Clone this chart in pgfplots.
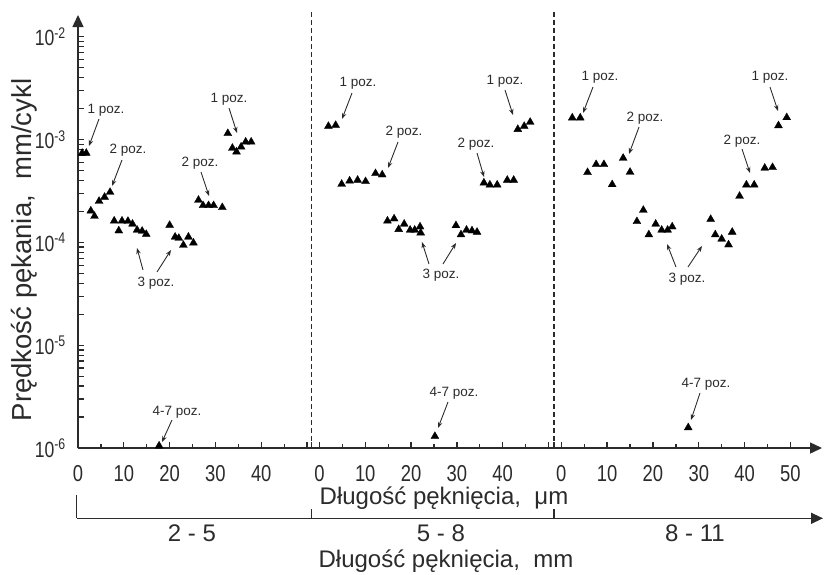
\documentclass[border=0pt]{standalone}
\usepackage{fontspec}
\setmainfont{Liberation Sans}
\newfontfamily\narrow[FakeStretch=0.8]{Liberation Sans}
\usepackage{pgfplots}
\pgfplotsset{compat=1.18}
\usepackage{pgfplotstable}
\usetikzlibrary{arrows.meta}
\definecolor{ink}{HTML}{2B2B2B}

% crack growth rate vs crack length, three ranges of the long crack (mm)
\pgfplotstableread{
x y
0.9 7.4e-4
1.8 7.4e-4
2.8 2.03e-4
3.6 1.80e-4
4.6 2.52e-4
5.8 2.76e-4
7.0 3.08e-4
7.9 1.62e-4
8.9 1.30e-4
9.6 1.62e-4
10.9 1.61e-4
11.9 1.51e-4
12.9 1.32e-4
14.0 1.29e-4
14.9 1.20e-4
17.7 1.05e-6
20.0 1.47e-4
21.2 1.13e-4
22.0 1.10e-4
23.0 9.4e-5
24.1 1.13e-4
25.2 9.9e-5
26.3 2.58e-4
27.3 2.29e-4
28.5 2.29e-4
29.6 2.29e-4
31.5 2.19e-4
32.7 1.15e-3
33.7 8.27e-4
34.6 7.6e-4
35.6 8.5e-4
36.6 9.5e-4
37.8 9.5e-4
}\panelA

\pgfplotstableread{
x y
1.96 1.35e-3
3.54 1.38e-3
4.85 3.69e-4
6.59 3.97e-4
8.33 4.04e-4
10.07 3.92e-4
12.24 4.69e-4
13.7 4.55e-4
14.85 1.62e-4
16.3 1.70e-4
17.3 1.34e-4
18.5 1.51e-4
19.8 1.32e-4
20.8 1.32e-4
21.96 1.42e-4
22.1 1.24e-4
25.2 1.3e-6
29.8 1.46e-4
30.9 1.19e-4
32.1 1.32e-4
33.3 1.30e-4
34.4 1.26e-4
35.9 3.80e-4
37.2 3.63e-4
38.8 3.63e-4
41.0 4.04e-4
42.4 4.04e-4
43.3 1.26e-3
44.7 1.35e-3
46.0 1.48e-3
}\panelB

\pgfplotstableread{
x y
2.39 1.63e-3
4.13 1.63e-3
5.72 4.80e-4
7.6 5.74e-4
9.3 5.74e-4
11.1 3.66e-4
13.5 6.61e-4
15.0 4.83e-4
16.5 1.60e-4
17.9 2.06e-4
19.1 1.19e-4
20.6 1.51e-4
21.9 1.32e-4
23.2 1.32e-4
24.2 1.42e-4
27.7 1.58e-6
32.6 1.68e-4
33.6 1.19e-4
35.0 1.08e-4
36.5 9.5e-5
37.3 1.26e-4
38.9 2.82e-4
40.4 3.63e-4
42.1 3.63e-4
44.4 5.29e-4
46.1 5.37e-4
47.4 1.37e-3
49.2 1.64e-3
}\panelC

% label + arrow, in picture pixels (origin top left)
\newcommand\ann[7]{%
  \node[font=\fontsize{13.5}{15}\selectfont, text=ink] at (#2,#3) {#1};
  \draw[ink, line width=0.9pt, -{Stealth[length=6pt,width=4.5pt]}] (#4,#5) -- (#6,#7);}

\begin{document}
\begin{tikzpicture}
\begin{axis}[
    scale only axis,
    width=744pt, height=433pt,
    xmin=0, xmax=162.4,
    ymode=log, ymin=1e-6, ymax=1.63e-2,
    clip=false,
    axis lines=left,
    axis line style={ink, line width=1.4pt, -{Triangle[length=12pt,width=11pt]}},
    tick align=inside,
    xtick pos=left, ytick pos=left,
    tick style={ink, line width=1.3pt},
    major tick length=6.5pt,
    minor tick length=4.5pt,
    xtick={0,10,20,30,40,50,51.0,52.7,62.7,72.7,82.7,92.7,102.7,103.9,105.5,115.5,125.5,135.5,145.5,155.5},
    xticklabels={0,10,20,30,40,{},{},0,10,20,30,40,{},{},0,10,20,30,40,50},
    minor xtick={5,15,25,35,45,57.7,67.7,77.7,87.7,97.7,110.5,120.5,130.5,140.5,150.5},
    ytick={1e-6,1e-5,1e-4,1e-3,1e-2},
    yticklabels={10\textsuperscript{-6},10\textsuperscript{-5},10\textsuperscript{-4},10\textsuperscript{-3},10\textsuperscript{-2}},
    extra y ticks={2e-6,3e-6,4e-6,5e-6,6e-6,7e-6,8e-6,9e-6,
                 2e-5,3e-5,4e-5,5e-5,6e-5,7e-5,8e-5,9e-5,
                 2e-4,3e-4,4e-4,5e-4,6e-4,7e-4,8e-4,9e-4,
                 2e-3,3e-3,4e-3,5e-3,6e-3,7e-3,8e-3,9e-3},
    extra y tick labels={},
    xticklabel style={font=\narrow\fontsize{23}{25}\selectfont, text=ink, inner sep=0pt, anchor=north, yshift=-17pt},
    yticklabel style={font=\narrow\fontsize{22}{24}\selectfont, text=ink, inner sep=0pt, anchor=east, xshift=-12pt},
]
\addplot[only marks, mark=triangle*, mark size=4.6pt, mark options={fill=black, draw=black, line width=0.3pt}]
    table[x=x, y=y] {\panelA};
\addplot[only marks, mark=triangle*, mark size=4.6pt, mark options={fill=black, draw=black, line width=0.3pt}]
    table[x expr=\thisrow{x}+52.7, y=y] {\panelB};
\addplot[only marks, mark=triangle*, mark size=4.6pt, mark options={fill=black, draw=black, line width=0.3pt}]
    table[x expr=\thisrow{x}+105.5, y=y] {\panelC};
\end{axis}

\begin{scope}[x=1pt, y=-1pt, shift={(-78pt,448pt)}]
  % panel separators
  \draw[ink, line width=1.1pt, dash pattern=on 5pt off 3pt] (311.7,12) -- (311.7,448);
  \draw[ink, line width=1.1pt, dash pattern=on 5pt off 3pt] (554,12) -- (554,448);

  % panel 1
  \ann{1 poz.}{106}{110}{99}{119}{89}{146}
  \ann{2 poz.}{128}{150}{122}{160}{112}{186}
  \ann{2 poz.}{200}{163}{201}{172}{209}{196}
  \ann{1 poz.}{229}{99}{229}{108}{237}{133}
  \ann{3 poz.}{156}{283}{143}{270}{137}{248}
  \draw[ink, line width=0.9pt, -{Stealth[length=6pt,width=4.5pt]}] (157,272) -- (171,250);
  \ann{4-7 poz.}{177}{412}{172}{420}{162}{442}
  % panel 2
  \ann{1 poz.}{358}{83}{352}{93}{342}{119}
  \ann{2 poz.}{404}{132}{398}{142}{388}{168}
  \ann{3 poz.}{441}{275}{429}{264}{422}{242}
  \draw[ink, line width=0.9pt, -{Stealth[length=6pt,width=4.5pt]}] (443,264) -- (456,243);
  \ann{2 poz.}{476}{144}{477}{153}{484}{177}
  \ann{1 poz.}{505}{81}{505}{90}{513}{115}
  \ann{4-7 poz.}{454}{393}{448}{402}{438}{428}
  % panel 3
  \ann{1 poz.}{600}{77}{593}{87}{583}{113}
  \ann{2 poz.}{645}{118}{639}{127}{629}{154}
  \ann{3 poz.}{687}{279}{676}{267}{667}{244}
  \draw[ink, line width=0.9pt, -{Stealth[length=6pt,width=4.5pt]}] (688,267) -- (702,246);
  \ann{2 poz.}{742}{141}{742}{149}{750}{173}
  \ann{1 poz.}{770}{77}{770}{87}{778}{111}
  \ann{4-7 poz.}{706}{384}{700}{393}{691}{420}

  % axis titles
  \node[rotate=90, font=\fontsize{27.5}{30}\selectfont, text=ink] at (24,250) {Prędkość pękania,\ \ mm/cykl};
  \node[font=\fontsize{24}{26}\selectfont, text=ink] at (444,498) {Długość pęknięcia,\ \ μm};

  % long crack length scale (mm)
  \draw[ink, line width=1.4pt, -{Triangle[length=12pt,width=11pt]}] (76.5,518.3) -- (823,518.3);
  \draw[ink, line width=1.2pt] (76.5,495) -- (76.5,518.3);
  \draw[ink, line width=1.2pt] (311.7,509) -- (311.7,518.3);
  \draw[ink, line width=1.2pt] (554,509) -- (554,518.3);
  \node[font=\fontsize{24}{26}\selectfont, text=ink] at (192,533) {2 - 5};
  \node[font=\fontsize{24}{26}\selectfont, text=ink] at (441,533) {5 - 8};
  \node[font=\fontsize{24}{26}\selectfont, text=ink] at (695,533) {8 - 11};
  \node[font=\fontsize{24}{26}\selectfont, text=ink] at (446,561) {Długość pęknięcia,\ \ mm};
\end{scope}

\pgfresetboundingbox
\path[use as bounding box] (-78pt,-126pt) rectangle (747pt,448pt);
\end{tikzpicture}
\end{document}
